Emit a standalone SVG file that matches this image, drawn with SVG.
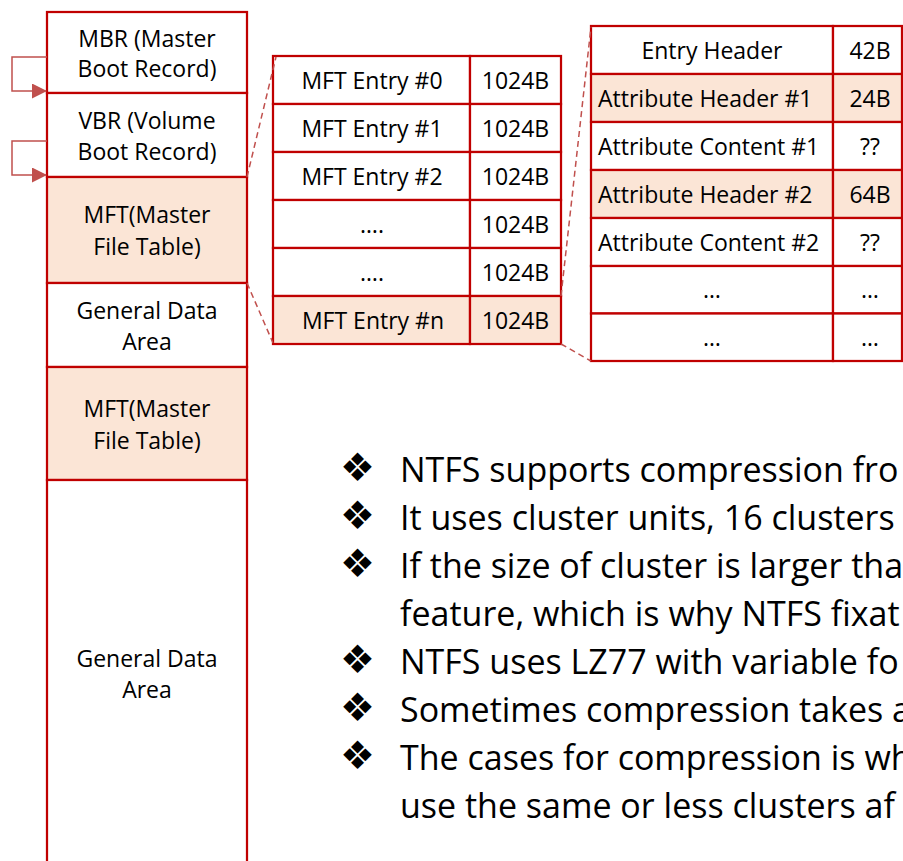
<svg xmlns="http://www.w3.org/2000/svg" width="903" height="861" viewBox="0 0 903 861">
  <defs>
    <style>
      .cell{stroke:#C00000;stroke-width:2.25;fill:#FFFFFF}
      .hl{fill:#FBE5D6}
      text{font-family:"Open Sans","Liberation Sans",sans-serif;fill:#000000}
      .t{font-size:23px;text-anchor:middle}
      .ts{font-size:23px}
      .b{font-size:34px}
      .bul{font-family:"DejaVu Sans",sans-serif;font-size:39px;text-anchor:middle;dominant-baseline:central}
      .dash{stroke:#C0504D;stroke-width:1.5;stroke-dasharray:6 4;fill:none}
      .link{stroke:#C0504D;stroke-width:1.5;fill:none}
    </style>
    <marker id="ah" viewBox="0 0 15 15" refX="14" refY="7.5" markerWidth="15" markerHeight="15" markerUnits="userSpaceOnUse" orient="auto">
      <path d="M0,0 L15,7.5 L0,15 z" fill="#C0504D"/>
    </marker>
  </defs>
  <rect width="903" height="861" fill="#FFFFFF"/>

  <!-- disk layout column -->
  <g id="mbr">
    <rect class="cell" x="47" y="12" width="200" height="81"/>
    <text class="t" x="147" y="46.7">MBR (Master</text>
    <text class="t" x="147" y="77.3">Boot Record)</text>
  </g>
  <g id="vbr">
    <rect class="cell" x="47" y="93" width="200" height="84"/>
    <text class="t" x="147" y="129">VBR (Volume</text>
    <text class="t" x="147" y="160">Boot Record)</text>
  </g>
  <g id="mft1">
    <rect class="cell hl" x="47" y="177" width="200" height="106"/>
    <text class="t" x="147" y="223">MFT(Master</text>
    <text class="t" x="147" y="255">File Table)</text>
  </g>
  <g id="data1">
    <rect class="cell" x="47" y="283" width="200" height="84"/>
    <text class="t" x="147" y="318.5">General Data</text>
    <text class="t" x="147" y="349.5">Area</text>
  </g>
  <g id="mft2">
    <rect class="cell hl" x="47" y="367" width="200" height="113"/>
    <text class="t" x="147" y="417">MFT(Master</text>
    <text class="t" x="147" y="448.5">File Table)</text>
  </g>
  <g id="data2">
    <rect class="cell" x="47" y="480" width="200" height="400"/>
    <text class="t" x="147" y="666.5">General Data</text>
    <text class="t" x="147" y="698">Area</text>
  </g>

  <!-- MFT entry table -->
  <g id="mft-table">
    <rect class="cell" x="273" y="56" width="197" height="48"/>
    <rect class="cell" x="470" y="56" width="91" height="48"/>
    <rect class="cell" x="273" y="104" width="197" height="48"/>
    <rect class="cell" x="470" y="104" width="91" height="48"/>
    <rect class="cell" x="273" y="152" width="197" height="48"/>
    <rect class="cell" x="470" y="152" width="91" height="48"/>
    <rect class="cell" x="273" y="200" width="197" height="48"/>
    <rect class="cell" x="470" y="200" width="91" height="48"/>
    <rect class="cell" x="273" y="248" width="197" height="48"/>
    <rect class="cell" x="470" y="248" width="91" height="48"/>
    <rect class="cell hl" x="273" y="296" width="197" height="48"/>
    <rect class="cell hl" x="470" y="296" width="91" height="48"/>
    <text class="t" x="372" y="89">MFT Entry #0</text>
    <text class="t" x="515.5" y="89">1024B</text>
    <text class="t" x="372" y="137">MFT Entry #1</text>
    <text class="t" x="515.5" y="137">1024B</text>
    <text class="t" x="372" y="185">MFT Entry #2</text>
    <text class="t" x="515.5" y="185">1024B</text>
    <text class="t" x="372" y="233">….</text>
    <text class="t" x="515.5" y="233">1024B</text>
    <text class="t" x="372" y="281">….</text>
    <text class="t" x="515.5" y="281">1024B</text>
    <text class="t" x="373" y="329">MFT Entry #n</text>
    <text class="t" x="515.5" y="329">1024B</text>
  </g>

  <!-- MFT entry layout table -->
  <g id="entry-table">
    <rect class="cell" x="591" y="26" width="242" height="48"/>
    <rect class="cell" x="833" y="26" width="69" height="48"/>
    <rect class="cell hl" x="591" y="74" width="242" height="48"/>
    <rect class="cell hl" x="833" y="74" width="69" height="48"/>
    <rect class="cell" x="591" y="122" width="242" height="48"/>
    <rect class="cell" x="833" y="122" width="69" height="48"/>
    <rect class="cell hl" x="591" y="170" width="242" height="48"/>
    <rect class="cell hl" x="833" y="170" width="69" height="48"/>
    <rect class="cell" x="591" y="218" width="242" height="48"/>
    <rect class="cell" x="833" y="218" width="69" height="48"/>
    <rect class="cell" x="591" y="266" width="242" height="47.5"/>
    <rect class="cell" x="833" y="266" width="69" height="47.5"/>
    <rect class="cell" x="591" y="313.5" width="242" height="47.5"/>
    <rect class="cell" x="833" y="313.5" width="69" height="47.5"/>
    <text class="t" x="712" y="59">Entry Header</text>
    <text class="t" x="870" y="59">42B</text>
    <text class="ts" x="598" y="107">Attribute Header #1</text>
    <text class="t" x="870" y="107">24B</text>
    <text class="ts" x="598" y="155">Attribute Content #1</text>
    <text class="t" x="870" y="155">??</text>
    <text class="ts" x="598" y="203">Attribute Header #2</text>
    <text class="t" x="870" y="203">64B</text>
    <text class="ts" x="598" y="251">Attribute Content #2</text>
    <text class="t" x="870" y="251">??</text>
    <text class="t" x="712" y="298">…</text>
    <text class="t" x="870" y="298">…</text>
    <text class="t" x="712" y="346">…</text>
    <text class="t" x="870" y="346">…</text>
  </g>

  <!-- connectors: boot-chain arrows and zoom-in guides -->
  <g id="connectors">
    <path class="link" d="M47,57 H12 V91 H46" marker-end="url(#ah)"/>
    <path class="link" d="M47,141 H12 V175 H46" marker-end="url(#ah)"/>
    <line class="dash" x1="247" y1="177" x2="276" y2="57"/>
    <line class="dash" x1="247" y1="283" x2="273" y2="343"/>
    <line class="dash" x1="561" y1="296" x2="591" y2="27"/>
    <line class="dash" x1="561" y1="344" x2="591" y2="361"/>
  </g>

  <!-- notes -->
  <g id="notes">
    <text class="bul" x="357.5" y="467">❖</text>
    <text class="bul" x="357.5" y="515">❖</text>
    <text class="bul" x="357.5" y="563">❖</text>
    <text class="bul" x="357.5" y="659">❖</text>
    <text class="bul" x="357.5" y="707">❖</text>
    <text class="bul" x="357.5" y="755">❖</text>
    <text class="b" x="400" y="482">NTFS supports compression fro</text>
    <text class="b" x="400" y="530">It uses cluster units, 16 clusters</text>
    <text class="b" x="400" y="578">If the size of cluster is larger tha</text>
    <text class="b" x="400" y="626">feature, which is why NTFS fixat</text>
    <text class="b" x="400" y="674">NTFS uses LZ77 with variable fo</text>
    <text class="b" x="400" y="722">Sometimes compression takes a</text>
    <text class="b" x="400" y="770">The cases for compression is wh</text>
    <text class="b" x="400" y="818">use the same or less clusters af</text>
  </g>
</svg>
